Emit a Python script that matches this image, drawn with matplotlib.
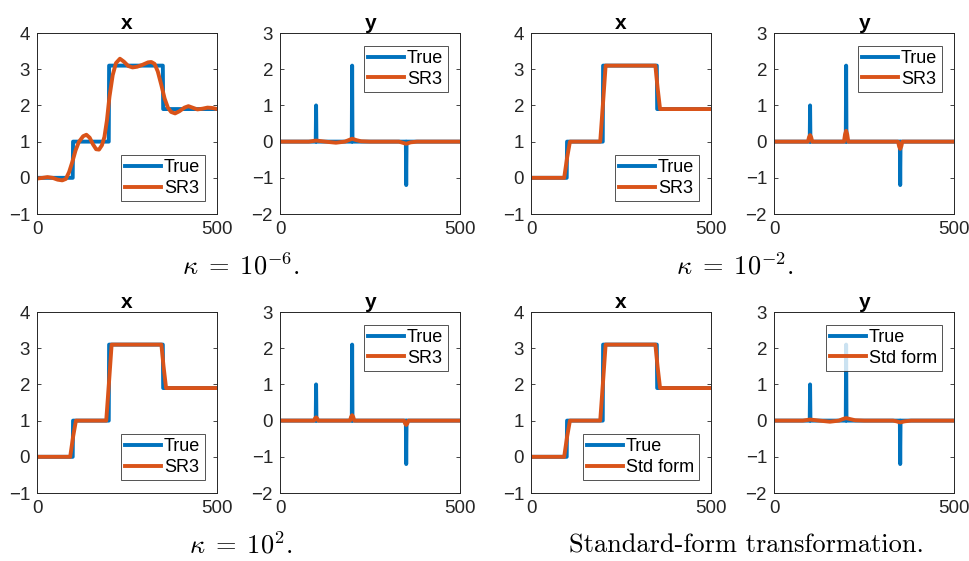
import numpy as np
import matplotlib.pyplot as plt

plt.rcParams['font.family'] = ['Liberation Sans', 'DejaVu Sans']
plt.rcParams['mathtext.fontset'] = 'cm'

BLUE = '#0072BD'
ORANGE = '#D95319'
GRAY = '#262626'

# true signal
n = 500
step_pos = [100, 200, 350]
x_levels = [0.0, 1.0, 3.1, 1.9]
y_spikes = [1.0, 2.1, -1.2]

# SR3, kappa = 1e-6
k6_x_t = [0, 16, 29, 43, 57, 70, 80, 89, 98, 107, 116, 128, 137, 146, 155, 164, 172, 180, 187,
          194, 201, 210, 219, 230, 241, 253, 265, 278, 292, 308, 317, 326, 335, 345, 354, 363,
          372, 383, 395, 409, 420, 431, 445, 459, 473, 486, 500]
k6_x_v = [-0.02, 0.0, 0.02, 0.0, -0.05, -0.07, -0.03, 0.16, 0.44, 0.76, 0.99, 1.15, 1.19, 1.11,
          0.93, 0.79, 0.78, 0.90, 1.13, 1.59, 2.24, 2.84, 3.17, 3.29, 3.21, 3.09, 3.05, 3.07,
          3.12, 3.19, 3.20, 3.15, 2.94, 2.56, 2.19, 1.94, 1.82, 1.78, 1.84, 1.94, 1.98, 1.94,
          1.89, 1.91, 1.94, 1.93, 1.90]
k6_y_t = [0, 80, 100, 125, 155, 180, 190, 200, 212, 225, 250, 330, 340, 350, 362, 380, 500]
k6_y_v = [0.0, 0.0, 0.03, 0.0, -0.03, 0.0, 0.04, 0.08, 0.04, 0.01, 0.0, 0.0, -0.03, -0.06, -0.02, 0.0, 0.0]

# SR3, kappa = 1e-2
k2_x_t = [0, 92, 100, 108, 192, 200, 207, 345, 351, 358, 500]
k2_x_v = [0.0, 0.0, 0.55, 1.0, 1.0, 2.1, 3.1, 3.1, 2.5, 1.9, 1.9]
k2_y_t = [0, 94, 97, 100, 103, 106, 194, 197, 200, 203, 206, 344, 347, 350, 353, 356, 500]
k2_y_v = [0.0, 0.0, 0.12, 0.18, 0.12, 0.0, 0.0, 0.2, 0.3, 0.2, 0.0, 0.0, -0.13, -0.2, -0.13, 0.0, 0.0]

# SR3, kappa = 1e2
kp2_x_t = [0, 92, 100, 108, 192, 200, 207, 345, 351, 358, 500]
kp2_x_v = [0.0, 0.0, 0.55, 1.0, 1.0, 2.1, 3.1, 3.1, 2.5, 1.9, 1.9]
kp2_y_t = [0, 94, 97, 100, 103, 106, 194, 197, 200, 203, 206, 344, 347, 350, 353, 356, 500]
kp2_y_v = [0.0, 0.0, 0.06, 0.09, 0.06, 0.0, 0.0, 0.1, 0.15, 0.1, 0.0, 0.0, -0.08, -0.12, -0.08, 0.0, 0.0]

# standard form
sf_x_t = [0, 92, 100, 108, 192, 200, 207, 345, 351, 358, 500]
sf_x_v = [0.0, 0.0, 0.55, 1.0, 1.0, 2.1, 3.1, 3.1, 2.5, 1.9, 1.9]
sf_y_t = [0, 80, 100, 125, 155, 180, 190, 200, 212, 225, 250, 330, 340, 350, 362, 380, 500]
sf_y_v = [0.0, 0.0, 0.03, 0.0, -0.03, 0.0, 0.04, 0.07, 0.04, 0.01, 0.0, 0.0, -0.02, -0.05, -0.02, 0.0, 0.0]

captions = [r'$\kappa\;=\;10^{-6}.$', r'$\kappa\;=\;10^{-2}.$', r'$\kappa\;=\;10^{2}.$',
            'Standard-form transformation.']

t = np.arange(n + 1)
x_true = np.zeros(n + 1)
for p, lv in zip(step_pos, x_levels[1:]):
    x_true[t >= p] = lv
y_true = np.zeros(n + 1)
for p, v in zip(step_pos, y_spikes):
    y_true[p] = v

panels = [
    (k6_x_t, k6_x_v, k6_y_t, k6_y_v, 'SR3'),
    (k2_x_t, k2_x_v, k2_y_t, k2_y_v, 'SR3'),
    (kp2_x_t, kp2_x_v, kp2_y_t, kp2_y_v, 'SR3'),
    (sf_x_t, sf_x_v, sf_y_t, sf_y_v, 'Std form'),
]

fig = plt.figure(figsize=(9.69, 5.61), dpi=100)

lefts = [0.0382, 0.548]
bottoms = [0.6185, 0.1212]
w, h = 0.186, 0.3226
gap = 0.2508


def style(ax, ylim, title):
    ax.set_xlim(0, 500)
    ax.set_ylim(*ylim)
    ax.set_xticks([0, 500])
    ax.set_yticks(np.arange(ylim[0], ylim[1] + 1))
    ax.tick_params(direction='in', top=True, right=True, length=3, width=0.6,
                   labelsize=13.5, colors=GRAY, pad=5)
    for s in ax.spines.values():
        s.set_color(GRAY)
        s.set_linewidth(0.7)
    ax.set_title(title, fontsize=15, fontweight='bold', pad=3)


def legend(ax, loc):
    lg = ax.legend(loc=loc, fontsize=13, frameon=True, fancybox=False,
                   handlelength=2.0, handletextpad=0.15, borderpad=0.25,
                   labelspacing=0.2, borderaxespad=0.7)
    lg.get_frame().set_edgecolor(GRAY)
    lg.get_frame().set_linewidth(0.7)


for i, (xt, xv, yt, yv, lab) in enumerate(panels):
    r, c = divmod(i, 2)
    l0 = lefts[c]
    b0 = bottoms[r]

    ax1 = fig.add_axes([l0, b0, w, h])
    ax1.plot(t, x_true, color=BLUE, lw=2.8, label='True')
    ax1.plot(xt, xv, color=ORANGE, lw=2.8, label=lab)
    style(ax1, (-1, 4), 'x')
    legend(ax1, 'lower right')

    ax2 = fig.add_axes([l0 + gap, b0, w, h])
    ax2.plot(t, y_true, color=BLUE, lw=2.8, label='True')
    ax2.plot(yt, yv, color=ORANGE, lw=2.8, label=lab)
    style(ax2, (-2, 3), 'y')
    legend(ax2, 'upper right')

    cx = l0 + 0.21 if i < 3 else l0 + 0.222
    fig.text(cx, b0 - 0.093, captions[i], fontsize=19, ha='center', va='center',
             family='cmr10' if i == 3 else None)

fig.savefig('out.png', dpi=100)
